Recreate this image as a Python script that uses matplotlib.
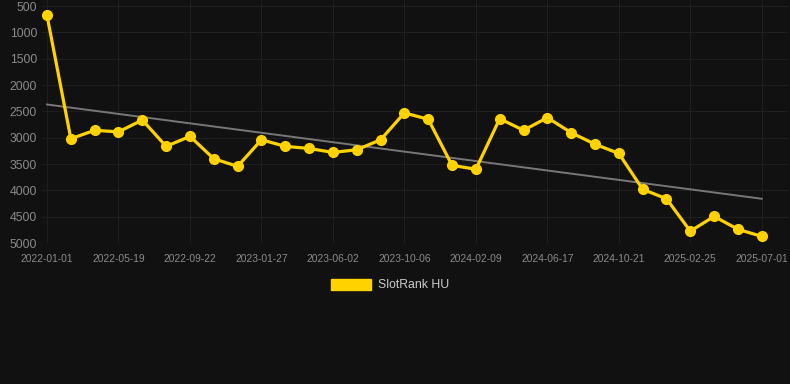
import matplotlib
matplotlib.use("Agg")
import matplotlib.pyplot as plt
from matplotlib.patches import Patch
import numpy as np

plt.rcParams['font.family'] = ['Liberation Sans', 'DejaVu Sans']

# rank values, one per snapshot (lower on the chart = worse rank)
rank = [680, 3020, 2860, 2890, 2665, 3165, 2975, 3400, 3545, 3040,
        3165, 3205, 3280, 3230, 3040, 2530, 2650, 3525, 3600, 2640,
        2860, 2620, 2905, 3125, 3300, 3980, 4160, 4775, 4495, 4740,
        4875]
# labels are shown on every third snapshot
tick_labels = ['2022-01-01', '2022-05-19', '2022-09-22', '2023-01-27',
               '2023-06-02', '2023-10-06', '2024-02-09', '2024-06-17',
               '2024-10-21', '2025-02-25', '2025-07-01']
trend = [2370, 4160]   # trend line start / end
y_ticks = [500, 1000, 1500, 2000, 2500, 3000, 3500, 4000, 4500, 5000]

bg = '#111111'
gold = '#FFD200'

fig = plt.figure(figsize=(7.9, 3.84), dpi=100, facecolor=bg)
ax = fig.add_axes([42/790, 1 - 243/384, 746/790, 243/384])
ax.set_facecolor(bg)

x = np.arange(len(rank))
ax.plot([x[0], x[-1]], trend, color='#777777', lw=1.4, zorder=2)
ax.plot(x, rank, color=gold, lw=2.3, marker='o', markersize=7.0,
        markerfacecolor=gold, markeredgecolor=gold, zorder=3)

ax.set_xlim(-0.21, 31.1)
ax.set_ylim(5000, 386)
ax.set_xticks(x[::3])
ax.set_xticklabels(tick_labels)
ax.set_yticks(y_ticks)
ax.tick_params(axis='x', colors='#8a8a8a', labelsize=7.4, length=0, pad=8)
ax.tick_params(axis='y', colors='#8a8a8a', labelsize=8.8, length=0, pad=3.5)
ax.grid(True, color='#1e1e1e', lw=0.8)
for s in ax.spines.values():
    s.set_visible(False)

fig.legend(handles=[Patch(facecolor=gold, edgecolor=gold)], labels=['SlotRank HU'],
           loc='center', bbox_to_anchor=(390/790, 1 - 285/384), frameon=False,
           handlelength=3.3, handleheight=1.0, handletextpad=0.5,
           fontsize=8.8, labelcolor='#cccccc')

fig.savefig('out.png', dpi=100, facecolor=bg)
